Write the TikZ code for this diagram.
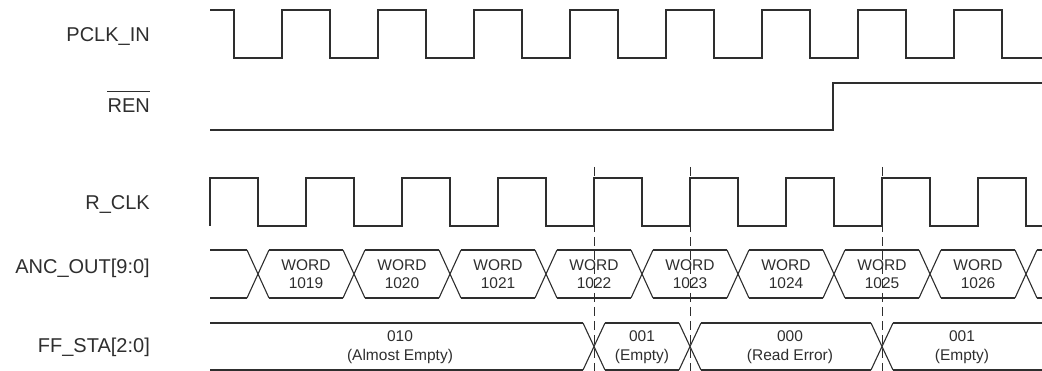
\documentclass[tikz,border=0pt]{standalone}
\usepackage{fontspec}
\setmainfont{Liberation Sans}
\definecolor{ink}{HTML}{2E2E2E}
\tikzset{
  wave/.style={draw=ink, line width=1.1pt},
  guide/.style={draw=ink, line width=0.9pt, dash pattern=on 9pt off 5pt},
  lbl/.style={anchor=base east, inner sep=0pt, text=ink, font=\fontsize{20}{24}\selectfont},
  val/.style={align=center, inner sep=0pt, text=ink, font=\fontsize{15.5}{18.5}\selectfont}
}
\begin{document}
\begin{tikzpicture}[x=1pt, y=-1pt]
\useasboundingbox (0,0) rectangle (1042,371);

% labels
\node[lbl] (lpclk) at (150,42) {PCLK\_IN};
\node[lbl] (lren) at (150,113) {REN};
\draw[draw=ink, line width=0.9pt] ([yshift=8pt]lren.north west) -- ([yshift=8pt]lren.north east);
\node[lbl] (lrclk) at (150,210) {R\_CLK};
\node[lbl] (lanc) at (150,274) {ANC\_OUT[9:0]};
\node[lbl] (lff) at (150,353) {FF\_STA[2:0]};

% guide lines
\foreach \gx in {594,690,882} {
  \draw[guide] (\gx,167) -- (\gx,371);
}

% PCLK_IN
\draw[wave] (210,10)
  foreach \k in {0,...,7} { -- ({234+96*\k},10) -- ({234+96*\k},58) -- ({282+96*\k},58) -- ({282+96*\k},10) }
  -- (1002,10) -- (1002,58) -- (1042,58);

% REN
\draw[wave] (210,130) -- (833,130) -- (833,83) -- (1042,83);

% R_CLK
\draw[wave] (210,226)
  foreach \k in {0,...,7} { -- ({210+96*\k},178) -- ({258+96*\k},178) -- ({258+96*\k},226) -- ({306+96*\k},226) }
  -- (978,178) -- (1026,178) -- (1026,226) -- (1042,226);

% ANC_OUT bus
\draw[wave] (210,250) -- (247,250);
\draw[wave] (210,298) -- (247,298);
\foreach \k in {0,...,8} {
  \draw[wave] ({247+96*\k},250) -- ({269+96*\k},298);
  \draw[wave] ({247+96*\k},298) -- ({269+96*\k},250);
}
\foreach \k in {0,...,7} {
  \draw[wave] ({269+96*\k},250) -- ({343+96*\k},250);
  \draw[wave] ({269+96*\k},298) -- ({343+96*\k},298);
}
\draw[wave] (1037,250) -- (1042,250);
\draw[wave] (1037,298) -- (1042,298);
\foreach \k/\w in {0/1019,1/1020,2/1021,3/1022,4/1023,5/1024,6/1025,7/1026} {
  \node[val] (w\w) at ({306+96*\k},274) {WORD\\\w};
}

% FF_STA bus
\draw[wave] (210,323) -- (583,323);
\draw[wave] (210,370) -- (583,370);
\draw[wave] (605,323) -- (679,323);
\draw[wave] (605,370) -- (679,370);
\draw[wave] (701,323) -- (871,323);
\draw[wave] (701,370) -- (871,370);
\draw[wave] (893,323) -- (1042,323);
\draw[wave] (893,370) -- (1042,370);
\foreach \c in {594,690,882} {
  \draw[wave] ({\c-11},323) -- ({\c+11},370);
  \draw[wave] ({\c-11},370) -- ({\c+11},323);
}
\node[val] (s1) at (400,347) {010\\(Almost Empty)};
\node[val] (s2) at (642,347) {001\\(Empty)};
\node[val] (s3) at (790,347) {000\\(Read Error)};
\node[val] (s4) at (962,347) {001\\(Empty)};
\end{tikzpicture}
\end{document}
